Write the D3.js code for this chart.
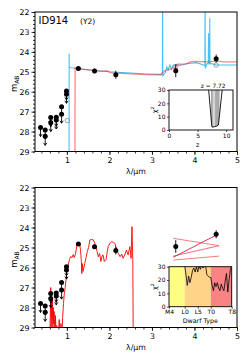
<!DOCTYPE html>
<html><head><meta charset="utf-8">
<script src="https://cdn.jsdelivr.net/npm/d3@7"></script>
<style>body{margin:0;background:#fff} text{font-family:"DejaVu Sans",sans-serif;fill:#000}</style>
</head><body><svg id="c" width="249" height="362"></svg>
<script>
// ---------- data ----------
const magTicks = [22,23,24,25,26,27,28,29];
const lamTicks = [1,2,3,4,5];
// photometry (λ µm, m_AB, error, upper-limit flag)
const photLam = [0.38,0.49,0.49,0.62,0.62,0.75,0.75,0.875,0.875,0.99,0.99,1.27,1.65,2.15,3.56,4.51];
const photMag = [27.8,27.92,28.24,27.3,27.55,27.28,27.42,26.75,27.13,25.96,26.13,24.83,24.96,25.15,24.95,24.34];
const photErr = [0,0,0,0,0,0,0,0,0,0,0,0.05,0.12,0.2,0.32,0.2];
const photUL  = [1,1,1,1,1,1,1,1,1,1,1,0,0,0,0,0];
// model photometry (open circles)
const modLam = [1.01,3.56,4.51];
const modMag = [27.45,24.75,24.66];
// galaxy template, best fit (blue)
const blueLam = [1.0,1.052,1.053,1.056,1.1,1.3,1.6,2.0,2.4,2.8,3.2,3.245,3.25,3.255,3.31,3.35,3.38,3.42,3.46,3.5,3.58,3.66,3.82,4.05,4.21,4.245,4.25,4.255,4.3,4.325,4.33,4.335,4.355,4.36,4.365,4.38,4.52,5.0];
const blueMag = [29.6,29.6,24.1,24.78,24.8,24.85,24.92,25.0,25.05,25.1,25.13,25.15,21.0,25.2,25.05,24.75,24.9,24.66,24.86,24.66,24.65,24.68,24.6,24.54,24.66,24.7,21.0,24.83,24.58,24.6,23.07,24.6,24.6,22.3,24.6,24.58,24.66,24.66];
// galaxy template, secondary solution (red, top)
const redLam = [1.1,1.19,1.192,1.3,1.5,1.8,1.95,2.0,2.05,2.5,3.0,3.2,3.3,3.45,3.55,3.6,3.8,3.9,4.0,4.3,4.5,4.7,5.0];
const redMag = [29.6,29.6,24.8,24.85,24.9,24.98,24.95,25.02,25.05,25.1,25.15,25.15,24.95,24.85,24.75,24.62,24.6,24.5,24.48,24.5,24.47,24.5,24.5];
// brown dwarf template (bottom)
const bdLam = [0.60,0.62,0.63,0.64,0.65,0.66,0.67,0.68,0.69,0.70,0.72,0.73,0.75,0.76,0.78,0.80,0.82,0.84,0.86,0.88,0.90,0.92,0.94,0.96,0.98,1.00,1.03,1.06,1.09,1.12,1.15,1.17,1.20,1.24,1.27,1.30,1.32,1.34,1.35,1.36,1.38,1.40,1.42,1.45,1.48,1.51,1.54,1.58,1.62,1.66,1.68,1.71,1.74,1.77,1.80,1.83,1.85,1.88,1.92,1.95,1.97,2.01,2.05,2.09,2.13,2.17,2.21,2.25,2.29,2.32,2.36,2.40,2.44,2.48,2.51,2.53,2.55,2.56];
const bdMag = [29.6,27.0,29.6,27.3,28.5,27.6,29.6,28.0,28.8,28.2,29.6,28.4,29.6,28.9,29.6,29.3,28.6,29.6,28.8,29.6,28.5,27.8,27.3,27.0,26.6,26.2,25.9,25.6,25.45,25.5,25.35,25.5,25.35,24.85,24.8,24.85,25.1,25.7,26.3,25.8,26.2,26.0,25.8,25.5,25.2,25.0,24.62,24.6,24.62,24.8,24.96,25.2,25.46,25.3,25.7,25.4,25.37,25.7,25.6,25.2,24.96,24.8,24.7,24.75,24.8,25.1,25.3,25.46,25.33,25.54,25.37,25.13,25.37,24.96,25.54,23.96,25.63,29.6];
// brown dwarf IRAC predictions (segments)
const bdSegL1 = [3.5,3.5,3.5,3.5];
const bdSegM1 = [24.54,25.43,25.49,25.63];
const bdSegL2 = [4.58,4.58,4.51,4.58];
const bdSegM2 = [24.91,24.91,24.38,25.43];
// chi2 vs z
const zTicks = [0,5,10];
const chiTicks = [0,10,20,30];
const chiZ = [6.9,7.5,7.7,8.0,8.3,8.65,9.35];
const chiZv = [32,2.5,2.1,2.6,2.8,3.7,32];
const zBest = 7.72;
const zRange = [7.35,8.85];
const zCore = [7.67,8.07];
// chi2 vs dwarf type
const typeNames = ["M4","L0","L5","T0","T8"];
const typeIdx = [0,6,11,16,24];
const dwT = [6,6.5,7,7.5,8,8.5,9,9.5,10,10.5,11,11.5,12,12.5,13,13.5,14,14.5,15,15.5,16,16.5,17,17.5,18,18.5,19,19.5,20,20.5,21,21.5,22,22.5,23,23.5,24];
const dwChi = [31,24,16,23,18,22,27,29,26,30,26,31,28,31,29,30,31,24,23,22,22,16,12,18,15,18,14,12,17,14,12,19,25,11,20,28,31];

// ---------- drawing ----------
const svg = d3.select("#c");
const X0 = 35, X1 = 237;
const defs = svg.append("defs");

function mainPanel(id, yt, yb){
  const x = d3.scaleLinear().domain([0.25,5]).range([X0,X1]);
  const y = d3.scaleLinear().domain([22,29]).range([yt,yb]);
  defs.append("clipPath").attr("id",id).append("rect").attr("x",X0).attr("y",yt).attr("width",X1-X0).attr("height",yb-yt);
  const g = svg.append("g");
  const ya = d3.axisLeft(y).tickValues(magTicks).tickSize(3.5).tickPadding(2).tickFormat(d3.format("d"));
  g.append("g").attr("transform",`translate(${X0},0)`).call(ya);
  const yminor = d3.range(22,29.001,0.2);
  g.append("g").attr("transform",`translate(${X0},0)`).call(d3.axisLeft(y).tickValues(yminor).tickSize(2).tickFormat(""));
  const xa = d3.axisBottom(x).tickValues(lamTicks).tickSize(3.5).tickPadding(2).tickFormat(d3.format("d"));
  g.append("g").attr("transform",`translate(0,${yb})`).call(xa);
  g.append("g").attr("transform",`translate(0,${yb})`).call(d3.axisBottom(x).tickValues(d3.range(0.4,5.001,0.2)).tickSize(2).tickFormat(""));
  g.selectAll(".domain").remove();
  g.selectAll("text").attr("font-size",7.8).style("font-family","DejaVu Sans");
  g.selectAll(".tick line").attr("stroke","#000").attr("stroke-width",0.8);
  const t = svg.append("text").attr("transform",`translate(16.5,${(yt+yb)/2+2}) rotate(-90)`).attr("text-anchor","middle").attr("font-size",8.5);
  t.append("tspan").text("m");
  t.append("tspan").text("AB").attr("font-size",6).attr("dy",2.2);
  svg.append("text").attr("x",(X0+X1)/2).attr("y",yb+22).attr("text-anchor","middle").attr("font-size",7.8).text("λ/μm");
  const plot = svg.append("g").attr("clip-path",`url(#${id})`);
  return {x,y,plot,yt,yb};
}

function drawPhot(p){
  const {x,y,plot} = p;
  photLam.forEach((l,i)=>{
    const cx = x(l), cy = y(photMag[i]);
    if(photUL[i]){
      const yb = cy+9;
      plot.append("line").attr("x1",cx).attr("x2",cx).attr("y1",cy).attr("y2",yb).attr("stroke","#000").attr("stroke-width",0.9);
      plot.append("path").attr("d",`M${cx-1.6},${yb-2.5}L${cx},${yb}L${cx+1.6},${yb-2.5}`).attr("fill","none").attr("stroke","#000").attr("stroke-width",0.9);
    } else if(photErr[i]>0){
      plot.append("line").attr("x1",cx).attr("x2",cx).attr("y1",y(photMag[i]-photErr[i])).attr("y2",y(photMag[i]+photErr[i])).attr("stroke","#000").attr("stroke-width",0.9);
    }
    plot.append("circle").attr("cx",cx).attr("cy",cy).attr("r",2.5).attr("fill","#000");
  });
}

// ===== top panel =====
const P1 = mainPanel("cp1",12,151.5);
const line1 = d3.line().x(d=>P1.x(d[0])).y(d=>P1.y(d[1]));
P1.plot.append("path").attr("d",line1(blueLam.map((l,i)=>[l,blueMag[i]]))).attr("fill","none").attr("stroke","#45c3f2").attr("stroke-width",1.1);
P1.plot.append("path").attr("d",line1(redLam.map((l,i)=>[l,redMag[i]]))).attr("fill","none").attr("stroke","#ff2020").attr("stroke-opacity",0.55).attr("stroke-width",1.3);
modLam.forEach((l,i)=>{
  P1.plot.append("circle").attr("cx",P1.x(l)).attr("cy",P1.y(modMag[i])).attr("r",2.2).attr("fill","none").attr("stroke","#888").attr("stroke-width",0.8);
});
drawPhot(P1);
svg.append("rect").attr("x",X0).attr("y",P1.yt).attr("width",X1-X0).attr("height",P1.yb-P1.yt).attr("fill","none").attr("stroke","#000").attr("stroke-width",1);
svg.append("text").attr("x",38.5).attr("y",23.5).attr("font-size",10).text("ID914");
svg.append("text").attr("x",80).attr("y",23.5).attr("font-size",7.5).text("(Y2)");

// chi2 vs z inset
{
  const ix0=169, ix1=233, iy0=90, iy1=130;
  const x = d3.scaleLinear().domain([0,11.2]).range([ix0,ix1]);
  const y = d3.scaleLinear().domain([0,30]).range([iy1,iy0]);
  svg.append("rect").attr("x",ix0).attr("y",iy0).attr("width",ix1-ix0).attr("height",iy1-iy0).attr("fill","#fff");
  defs.append("clipPath").attr("id","cpz").append("rect").attr("x",ix0).attr("y",iy0).attr("width",ix1-ix0).attr("height",iy1-iy0);
  const pts = chiZ.map((z,i)=>[z,chiZv[i]]);
  defs.append("clipPath").attr("id","cpzf").append("path").attr("d",
    d3.area().x(d=>x(d[0])).y0(y(40)).y1(d=>y(d[1]))(pts));
  const g = svg.append("g").attr("clip-path","url(#cpz)");
  const gf = g.append("g").attr("clip-path","url(#cpzf)");
  gf.append("rect").attr("x",x(zRange[0])).attr("width",x(zRange[1])-x(zRange[0])).attr("y",iy0).attr("height",iy1-iy0).attr("fill","#aaaaaa");
  gf.append("rect").attr("x",x(zCore[0])).attr("width",x(zCore[1])-x(zCore[0])).attr("y",iy0).attr("height",iy1-iy0).attr("fill","#d6d6d6");
  g.append("path").attr("d",d3.line().x(d=>x(d[0])).y(d=>y(d[1]))(pts)).attr("fill","none").attr("stroke","#000").attr("stroke-width",0.9);
  svg.append("rect").attr("x",ix0).attr("y",iy0).attr("width",ix1-ix0).attr("height",iy1-iy0).attr("fill","none").attr("stroke","#000").attr("stroke-width",0.9);
  const ga = svg.append("g");
  ga.append("g").attr("transform",`translate(${ix0},0)`).call(d3.axisLeft(y).tickValues(chiTicks).tickSize(2).tickPadding(1.5));
  ga.append("g").attr("transform",`translate(0,${iy1})`).call(d3.axisBottom(x).tickValues(zTicks).tickSize(2).tickPadding(1.5));
  ga.selectAll(".domain").remove();
  ga.selectAll("text").attr("font-size",6).style("font-family","DejaVu Sans");
  ga.selectAll(".tick line").attr("stroke-width",0.7);
  svg.append("text").attr("x",x(5)).attr("y",146.5).attr("text-anchor","middle").attr("font-size",6.3).text("z");
  svg.append("text").attr("x",x(zBest)).attr("y",88).attr("text-anchor","middle").attr("font-size",5.8).text("z = " + zBest.toFixed(2));
  const t = svg.append("text").attr("transform",`translate(156.5,${(iy0+iy1)/2}) rotate(-90)`).attr("text-anchor","middle").attr("font-size",6.5);
  t.append("tspan").text("χ");
  t.append("tspan").text("2").attr("font-size",4.5).attr("dy",-2.5);
}

// ===== bottom panel =====
const P2 = mainPanel("cp2",187.5,327.5);
const line2 = d3.line().x(d=>P2.x(d[0])).y(d=>P2.y(d[1]));
P2.plot.append("path").attr("d",line2(bdLam.map((l,i)=>[l,bdMag[i]]))).attr("fill","none").attr("stroke","#ff0000").attr("stroke-width",0.9);
const segCol = ["#f07070","#ee6070","#d8204a","#f07070"];
bdSegL1.forEach((l,i)=>{
  P2.plot.append("line").attr("x1",P2.x(l)).attr("y1",P2.y(bdSegM1[i])).attr("x2",P2.x(bdSegL2[i])).attr("y2",P2.y(bdSegM2[i])).attr("stroke",segCol[i]).attr("stroke-width",0.9);
});
drawPhot(P2);
svg.append("rect").attr("x",X0).attr("y",P2.yt).attr("width",X1-X0).attr("height",P2.yb-P2.yt).attr("fill","none").attr("stroke","#000").attr("stroke-width",1);

// chi2 vs dwarf type inset
{
  const ix0=169, ix1=231.7, iy0=266.7, iy1=306.7;
  const x = d3.scaleLinear().domain([0,24]).range([ix0,ix1]);
  const y = d3.scaleLinear().domain([0,30]).range([iy1,iy0]);
  const spans = [[0,6,"#fdfd84"],[6,16,"#fdd488"],[16,24,"#fa8484"]];
  spans.forEach(s=>svg.append("rect").attr("x",x(s[0])).attr("y",iy0).attr("width",x(s[1])-x(s[0])).attr("height",iy1-iy0).attr("fill",s[2]));
  defs.append("clipPath").attr("id","cpd").append("rect").attr("x",ix0).attr("y",iy0).attr("width",ix1-ix0).attr("height",iy1-iy0);
  svg.append("g").attr("clip-path","url(#cpd)").append("path")
    .attr("d",d3.line().x(d=>x(d[0])).y(d=>y(d[1]))(dwT.map((t,i)=>[t,dwChi[i]])))
    .attr("fill","none").attr("stroke","#000").attr("stroke-width",0.8);
  svg.append("rect").attr("x",ix0).attr("y",iy0).attr("width",ix1-ix0).attr("height",iy1-iy0).attr("fill","none").attr("stroke","#000").attr("stroke-width",0.9);
  const ga = svg.append("g");
  ga.append("g").attr("transform",`translate(${ix0},0)`).call(d3.axisLeft(y).tickValues(chiTicks).tickSize(2).tickPadding(1.5));
  ga.append("g").attr("transform",`translate(0,${iy1})`).call(d3.axisBottom(x).tickValues(typeIdx).tickSize(2).tickPadding(1.5).tickFormat((d,i)=>typeNames[i]));
  ga.selectAll(".domain").remove();
  ga.selectAll("text").attr("font-size",6).style("font-family","DejaVu Sans");
  ga.selectAll(".tick line").attr("stroke-width",0.7);
  svg.append("text").attr("x",(ix0+ix1)/2).attr("y",323).attr("text-anchor","middle").attr("font-size",6.3).text("Dwarf Type");
  const t = svg.append("text").attr("transform",`translate(156.5,${(iy0+iy1)/2}) rotate(-90)`).attr("text-anchor","middle").attr("font-size",6.5);
  t.append("tspan").text("χ");
  t.append("tspan").text("2").attr("font-size",4.5).attr("dy",-2.5);
}
</script></body></html>
